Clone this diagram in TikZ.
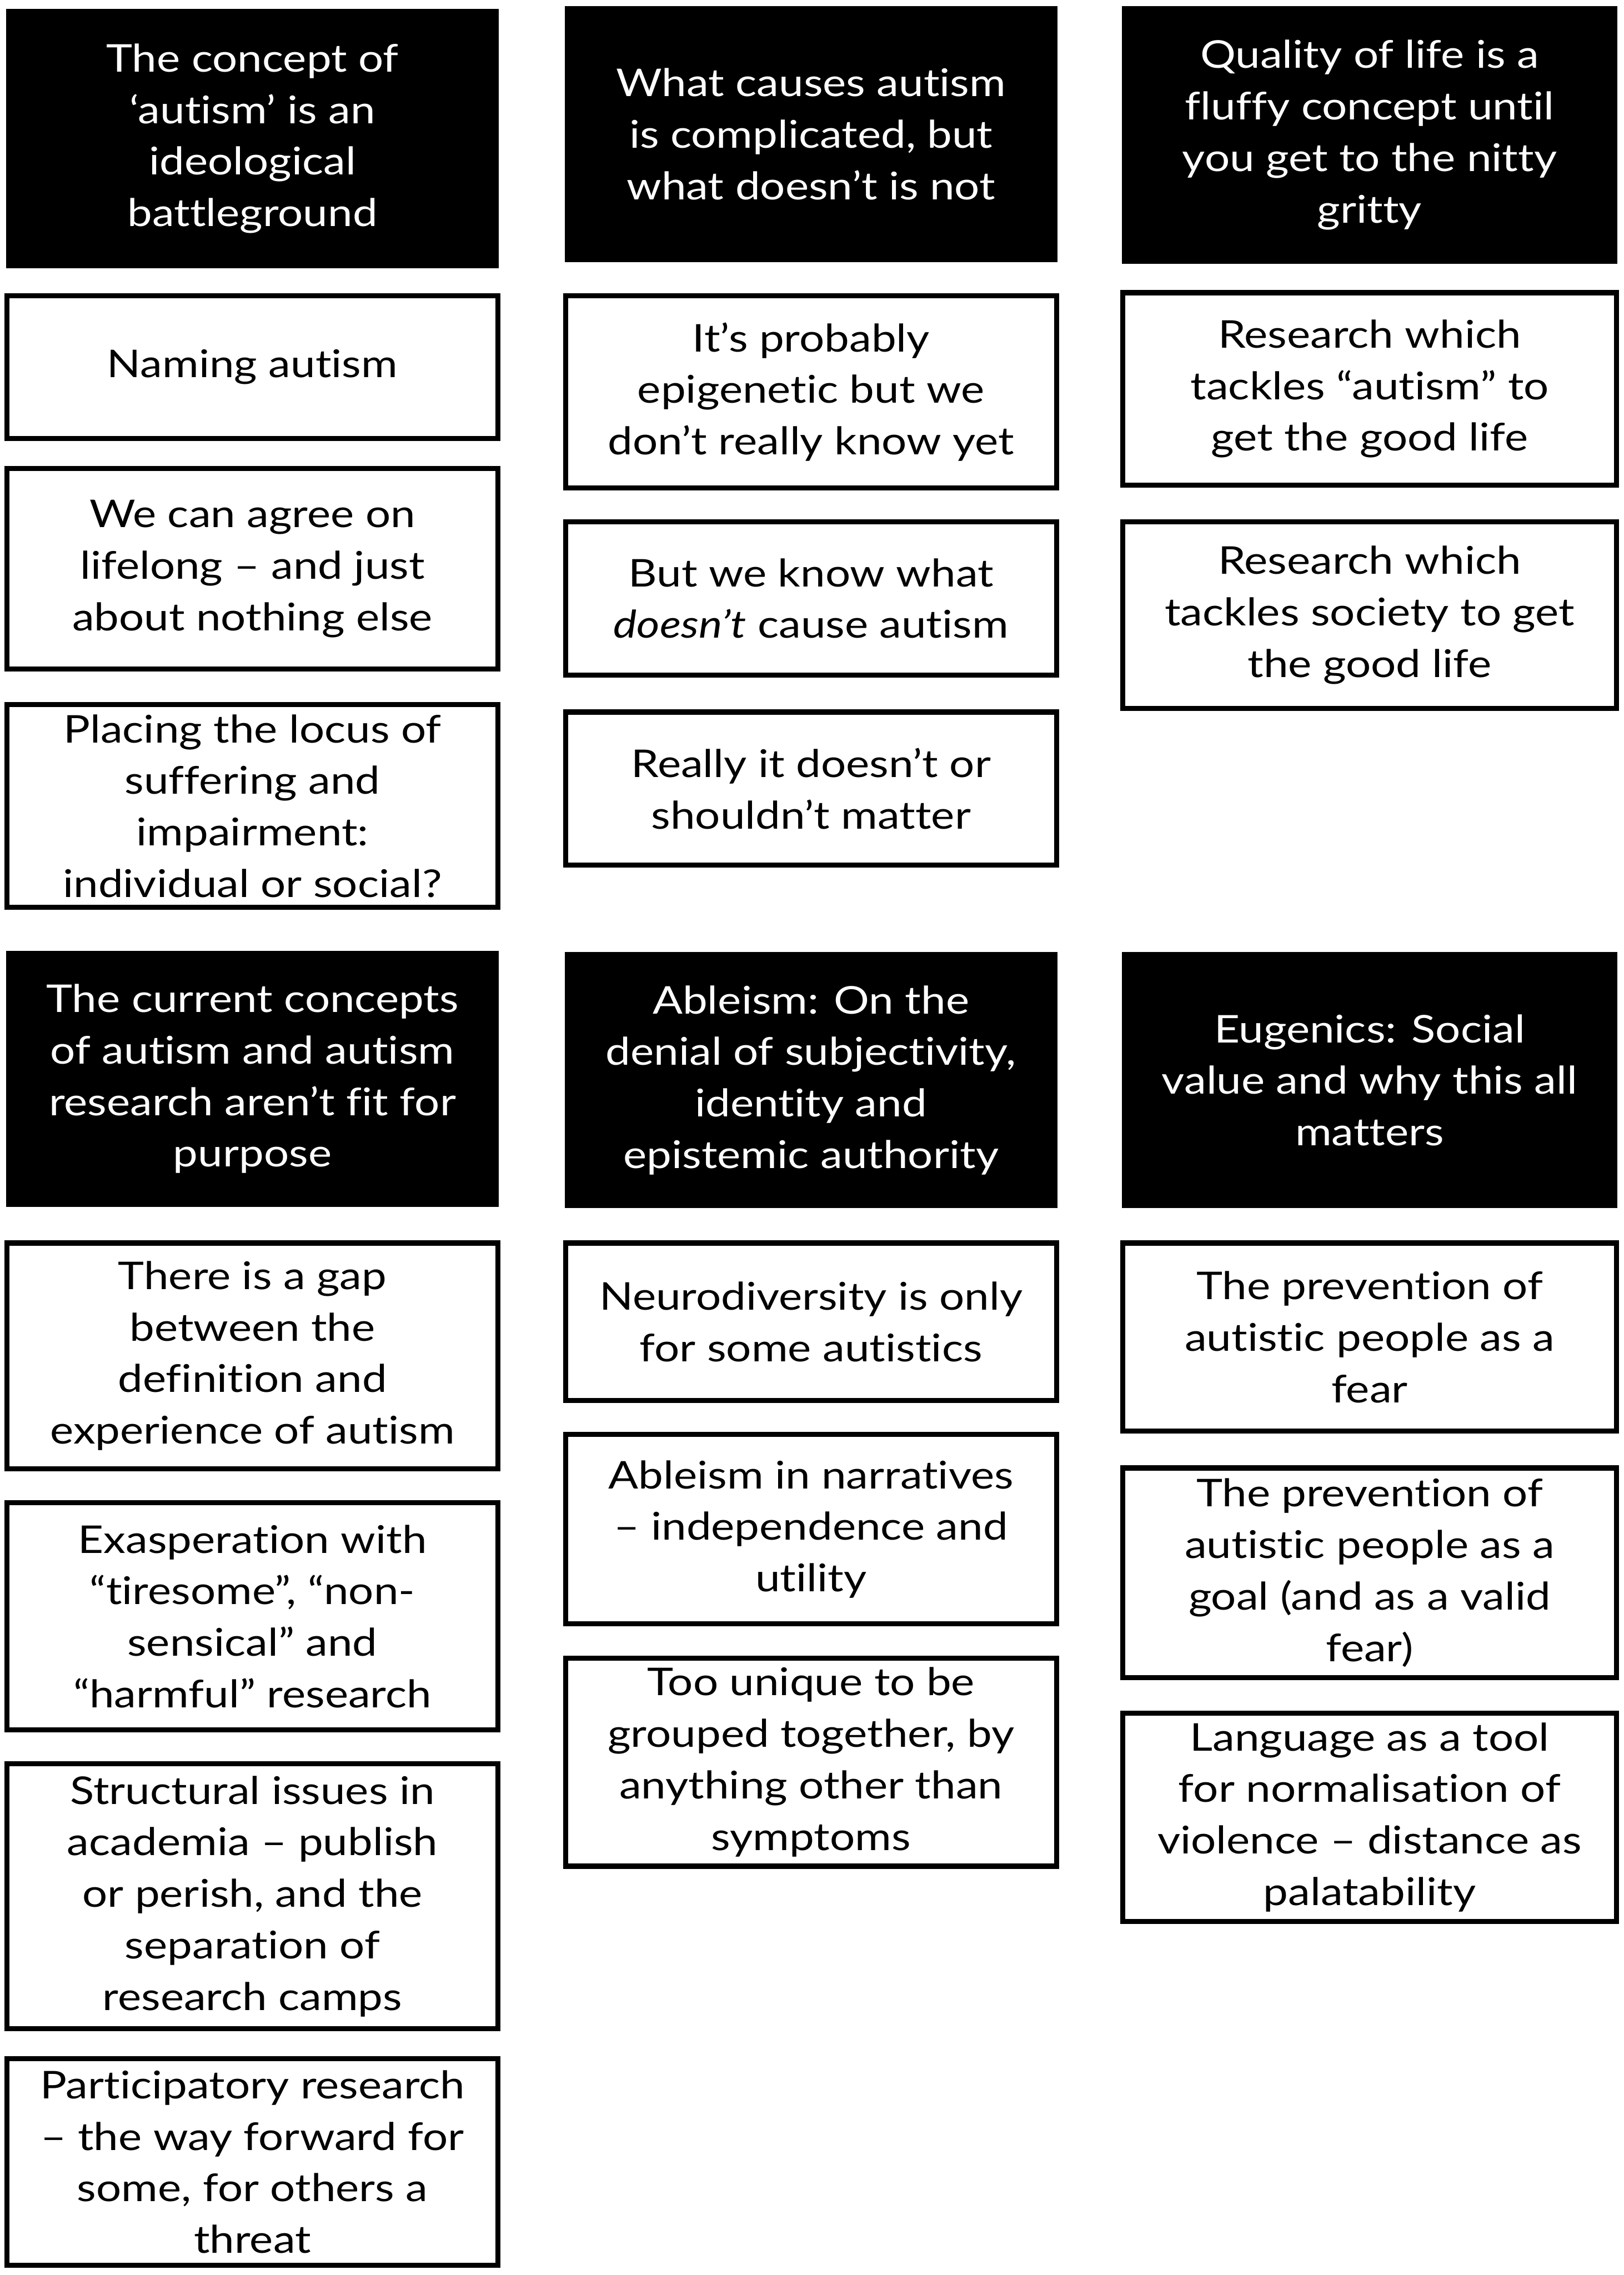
\documentclass[tikz,border=0pt]{standalone}
\usepackage{fontspec}
\setmainfont{Lato}[FakeStretch=1.16,Ligatures=NoCommon]
\newcommand\bx[7]{\node[#1,minimum width={(#5-#3)*0.02cm-0.07cm},minimum height={(#6-#4)*0.02cm-0.07cm}] (#2) at ({(#3+#5)/2},{(#4+#6)/2}) {#7};}
\begin{document}
\begin{tikzpicture}[x=0.02cm,y=-0.02cm,
 hdr/.style={fill=black,draw=black,line width=0.02cm,text=white},
 card/.style={fill=white,draw=black,line width=0.07cm},
 every node/.style={align=center,inner sep=0pt,font=\fontsize{15pt}{20.2pt}\selectfont}]
\fill[white] (0,0) rectangle (1119,1568);
\path[use as bounding box] (0,0) rectangle (1119,1568);
% headers row 1
\bx{hdr}{h1}{3}{5}{345}{186}{The concept of\\‘autism’ is an\\ideological\\battleground}
\bx{hdr}{h2}{388}{3}{730}{182}{What causes autism\\is complicated, but\\what doesn’t is not}
\bx{hdr}{h3}{772}{3}{1116}{183}{Quality of life is a\\fluffy concept until\\you get to the nitty\\gritty}
% column 1 top
\bx{card}{a1}{3}{202}{345}{304}{Naming autism}
\bx{card}{a2}{3}{321}{345}{463}{We can agree on\\lifelong – and just\\about nothing else}
\bx{card}{a3}{3}{484}{345}{627}{Placing the locus of\\suffering and\\impairment:\\individual or social?}
% column 2 top
\bx{card}{b1}{388}{202}{730}{338}{It’s probably\\epigenetic but we\\don’t really know yet}
\bx{card}{b2}{388}{358}{730}{467}{But we know what\\\textit{doesn’t} cause autism}
\bx{card}{b3}{388}{489}{730}{598}{Really it doesn’t or\\shouldn’t matter}
% column 3 top
\bx{card}{c1}{772}{200}{1116}{336}{Research which\\tackles “autism” to\\get the good life}
\bx{card}{c2}{772}{358}{1116}{490}{Research which\\tackles society to get\\the good life}
% headers row 2
\bx{hdr}{h4}{3}{654}{345}{833}{The current concepts\\of autism and autism\\research aren’t fit for\\purpose}
\bx{hdr}{h5}{388}{655}{730}{834}{Ableism: On the\\denial of subjectivity,\\identity and\\epistemic authority}
\bx{hdr}{h6}{772}{655}{1116}{834}{Eugenics: Social\\value and why this all\\matters}
% column 1 bottom
\bx{card}{d1}{3}{855}{345}{1014}{There is a gap\\between the\\definition and\\experience of autism}
\bx{card}{d2}{3}{1034}{345}{1194}{Exasperation with\\“tiresome”, “non-\\sensical” and\\“harmful” research}
\bx{card}{d3}{3}{1214}{345}{1400}{Structural issues in\\academia – publish\\or perish, and the\\separation of\\research camps}
\bx{card}{d4}{3}{1417}{345}{1563}{Participatory research\\– the way forward for\\some, for others a\\threat}
% column 2 bottom
\bx{card}{e1}{388}{855}{730}{967}{Neurodiversity is only\\for some autistics}
\bx{card}{e2}{388}{987}{730}{1121}{Ableism in narratives\\– independence and\\utility}
\bx{card}{e3}{388}{1141}{730}{1288}{Too unique to be\\grouped together, by\\anything other than\\symptoms}
% column 3 bottom
\bx{card}{f1}{772}{855}{1116}{988}{The prevention of\\autistic people as a\\fear}
\bx{card}{f2}{772}{1010}{1116}{1158}{The prevention of\\autistic people as a\\goal (and as a valid\\fear)}
\bx{card}{f3}{772}{1179}{1116}{1326}{Language as a tool\\for normalisation of\\violence – distance as\\palatability}
\end{tikzpicture}
\end{document}
